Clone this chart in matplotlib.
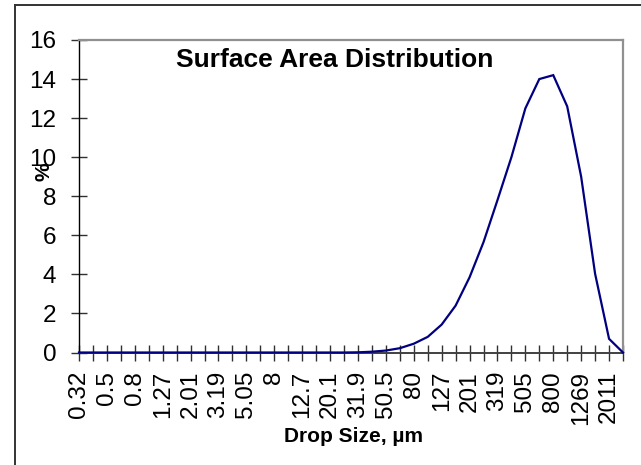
import matplotlib
matplotlib.use("Agg")
import matplotlib.pyplot as plt
from matplotlib.lines import Line2D

sizes = ["0.32", "0.4", "0.5", "0.63", "0.8", "1", "1.27", "1.6", "2.01", "2.53",
         "3.19", "4.02", "5.05", "6.36", "8", "10.1", "12.7", "16", "20.1", "25.3",
         "31.9", "40.2", "50.5", "63.6", "80", "101", "127", "160", "201", "254",
         "319", "402", "505", "636", "800", "1007", "1269", "1597", "2011", "2531"]
percent = [0, 0, 0, 0, 0, 0, 0, 0, 0, 0,
           0, 0, 0, 0, 0, 0, 0, 0, 0, 0,
           0.01, 0.04, 0.1, 0.22, 0.45, 0.8, 1.43, 2.4, 3.85, 5.65,
           7.8, 10.0, 12.5, 14.0, 14.2, 12.6, 9.0, 4.03, 0.7, 0]
yticks = [0, 2, 4, 6, 8, 10, 12, 14, 16]

plt.rcParams['font.family'] = ['Liberation Sans', 'DejaVu Sans']

W, H = 641, 465
fig = plt.figure(figsize=(W / 100, H / 100), dpi=100)
ax = fig.add_axes([79 / W, 1 - 352.5 / H, 544 / W, 312.5 / H])

x = list(range(len(sizes)))
ax.plot(x, percent, color='#000080', lw=1.6, solid_joinstyle='miter', clip_on=False, zorder=5)

ax.set_xlim(0, len(sizes) - 1)
ax.set_ylim(0, 16)
ax.set_xticks(x)
ax.set_xticklabels([s if i % 2 == 0 else "" for i, s in enumerate(sizes)], rotation=90, fontsize=17.5)
ax.set_yticks(yticks)
ax.set_yticklabels([str(v) for v in yticks], fontsize=17.5)

ax.tick_params(axis='x', direction='inout', length=11.5, width=1.0, color='#303030', pad=7.5)
ax.tick_params(axis='y', direction='inout', length=11.5, width=1.0, color='#303030', pad=10.5)

ax.spines['left'].set_color('black')
ax.spines['left'].set_linewidth(1.0)
ax.spines['bottom'].set_color('#404040')
ax.spines['bottom'].set_linewidth(1.4)
ax.spines['top'].set_color('#909090')
ax.spines['right'].set_color('#909090')
ax.spines['top'].set_linewidth(1.6)
ax.spines['right'].set_linewidth(1.6)

fig.text(335 / W, 1 - 66.5 / H, "Surface Area Distribution", ha='center', va='baseline',
         fontsize=19, fontweight='bold')
fig.text(353 / W, 1 - 436 / H, "Drop Size, µm", ha='center', va='center',
         fontsize=15, fontweight='bold')
fig.text(44 / W, 1 - 172 / H, "%", ha='center', va='center', rotation=90,
         fontsize=15, fontweight='bold')

# outer chart border (left and top)
fig.add_artist(Line2D([14.5 / W, 14.5 / W], [0, 1 - 5.5 / H], transform=fig.transFigure,
                      color='#333333', lw=1.4))
fig.add_artist(Line2D([14.5 / W, 1], [1 - 5.5 / H, 1 - 5.5 / H], transform=fig.transFigure,
                      color='#333333', lw=1.4))

fig.savefig("out.png", dpi=100)
